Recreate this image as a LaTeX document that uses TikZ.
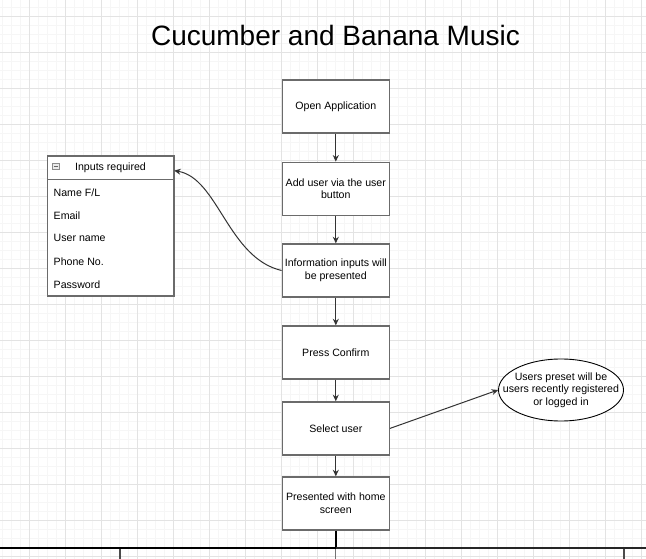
\documentclass[tikz,border=0pt]{standalone}
\usepackage{fontspec}
\setmainfont{Liberation Sans}
\usetikzlibrary{arrows.meta,shapes.geometric}
\definecolor{gridmajor}{HTML}{E3E3E3}
\definecolor{gridminor}{HTML}{F6F6F6}
\definecolor{boxline}{HTML}{6B6B6B}
\tikzset{
  stepbox/.style={draw=boxline,line width=1.4pt,fill=white,minimum width=107pt,minimum height=53pt,align=center,inner sep=1pt,font=\fontsize{10.6}{12.7}\selectfont},
  flowarrow/.style={draw=black!80,line width=1pt,-{Stealth[length=6.5pt,width=6pt]}},
  rowtext/.style={anchor=west,inner sep=0pt,font=\fontsize{10.6}{12.7}\selectfont},
}
\begin{document}
\begin{tikzpicture}[x=1pt,y=-1pt]
\useasboundingbox (0,0) rectangle (646,559);
\fill[white] (0,0) rectangle (646,559);
% grid
\foreach \i in {0,...,72} {\draw[gridminor,line width=0.5pt] ({2.3+9*\i},0) -- ({2.3+9*\i},559);}
\foreach \i in {0,...,61} {\draw[gridminor,line width=0.5pt] (0,{7+9*\i}) -- (646,{7+9*\i});}
\foreach \i in {0,...,17} {\draw[gridmajor,line width=0.9pt] ({29.3+36*\i},0) -- ({29.3+36*\i},559);}
\foreach \i in {0,...,15} {\draw[gridmajor,line width=0.9pt] (0,{16+36*\i}) -- (646,{16+36*\i});}

% title
\node[font=\fontsize{28}{34}\selectfont,inner sep=0pt] (title) at (335.5,35) {Cucumber and Banana Music};

% flow boxes
\node[stepbox] (open) at (335.8,106.5) {Open Application};
\node[stepbox] (add) at (335.8,188.8) {Add user via the user\\button};
\node[stepbox] (info) at (335.8,270.5) {Information inputs will\\be presented};
\node[stepbox] (confirm) at (335.8,352.5) {Press Confirm};
\node[stepbox] (select) at (335.8,428.4) {Select user};
\node[stepbox] (home) at (335.8,503.5) {Presented with home\\screen};

\draw[flowarrow] (open) -- (add);
\draw[flowarrow] (add) -- (info);
\draw[flowarrow] (info) -- (confirm);
\draw[flowarrow] (confirm) -- (select);
\draw[flowarrow] (select) -- (home);

% ellipse
\node[ellipse,draw=black,line width=0.9pt,fill=white,minimum width=125pt,minimum height=62pt,inner sep=0pt] (ell) at (561,390) {};
\node[align=center,inner sep=0pt,font=\fontsize{10.6}{12.7}\selectfont] (elltext) at (ell.center) {Users preset will be\\users recently registered\\or logged in};
\draw[flowarrow] (select.east) -- (ell.west);

% table
\draw[boxline,line width=1.3pt,fill=white] (47.3,156) rectangle (174,296);
\node[minimum width=126.7pt,minimum height=23.3pt,inner sep=0pt] (hdr) at (110.65,167.65) {};
\draw[boxline,line width=1.3pt] (47.3,179.3) -- (174,179.3);
\node[font=\fontsize{10.6}{12.7}\selectfont,inner sep=0pt] (hdrtext) at (110.5,167.7) {Inputs required};
\node[draw=black!45,fill=black!8,line width=0.6pt,minimum size=6.5pt,inner sep=0pt] (minus) at (55.7,166.5) {};
\draw[black!60,line width=0.8pt] ([xshift=1.6pt]minus.west) -- ([xshift=-1.6pt]minus.east);
\node[rowtext] (r1) at (53.5,192.3) {Name F/L};
\node[rowtext] (r2) at (53.5,215.3) {Email};
\node[rowtext] (r3) at (53.5,238.3) {User name};
\node[rowtext] (r4) at (53.5,261.5) {Phone No.};
\node[rowtext] (r5) at (53.5,285) {Password};

\draw[flowarrow] (info.west) .. controls (228,258) and (218,178) .. ([yshift=-3pt]hdr.east);

% bottom bus
\coordinate (busmid) at (335.8,547.5);
\coordinate (busleft) at (0,547.5);
\coordinate (busright) at (646,547.5);
\coordinate (t1) at (120,547.5);
\coordinate (t3) at (624,547.5);
\draw[black,line width=2pt] (home.south) -- (busmid);
\draw[black!70,line width=1.3pt] (t1) -- (120,560);
\draw[black!55,line width=1.3pt] (busmid) -- (335.8,560);
\draw[black!70,line width=1.3pt] (t3) -- (624,560);
\draw[black,line width=2pt] (busleft) -- (busmid);
\draw[black!85,line width=2pt] (busmid) -- (busright);
\end{tikzpicture}
\end{document}
